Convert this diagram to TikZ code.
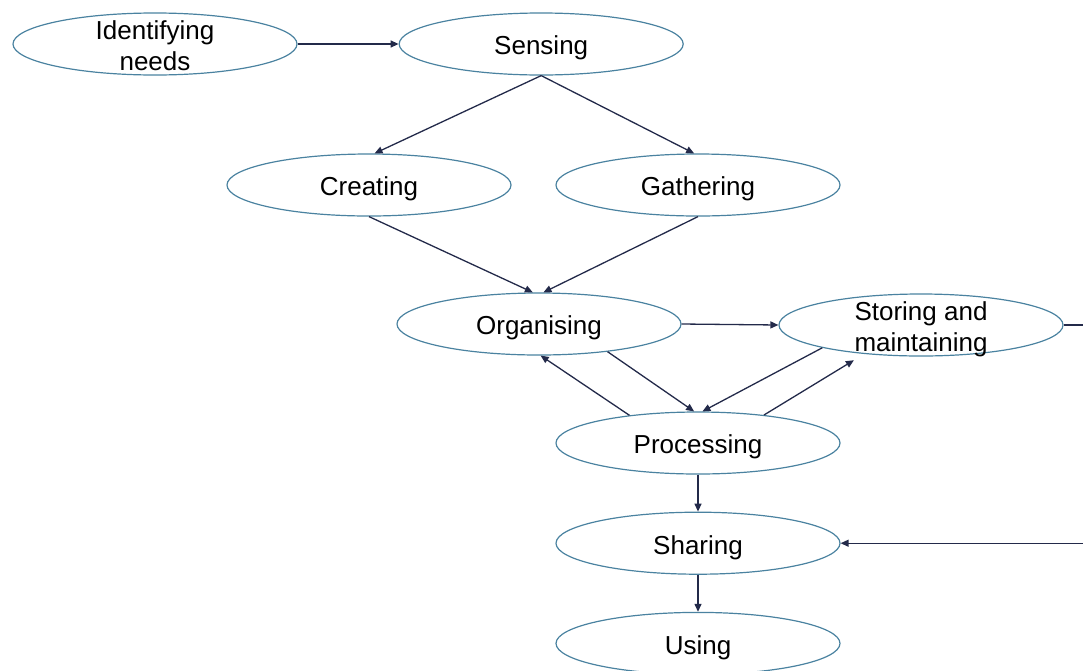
\documentclass[tikz,border=0pt]{standalone}
\usepackage{fontspec}
\setmainfont{Liberation Sans}
\usepackage{xcolor}
\usetikzlibrary{positioning, arrows.meta, shapes.geometric}

\definecolor{stageblue}{RGB}{74,130,160}
\definecolor{arrownavy}{RGB}{35,42,74}

\begin{document}
\begin{tikzpicture}[
    x=1pt, y=-1pt,
    >={Triangle[length=8pt, width=7pt]},
    node distance=38pt,
    stage/.style={ellipse, draw=stageblue, line width=1.2pt, minimum width=284pt, minimum height=62pt, inner sep=0pt, font=\fontsize{26}{31}\selectfont, align=center, execute at begin node={\rule{0pt}{27pt}}},
    twoline/.style={inner ysep=-11pt, execute at begin node={\rule[-5.5pt]{0pt}{64pt}}},
    flow/.style={->, line width=1.3pt, draw=arrownavy},
]
\useasboundingbox (0,0) rectangle (1083,670);

% Top row
\node[stage, twoline] (need) at (155,44) {Identifying\\needs};
\node[stage, right=101pt of need] (sense) {Sensing};

% Creating / gathering
\node[stage] (create) at (369,185) {Creating};
\node[stage] (gather) at (698,185) {Gathering};

% Organising / storing
\node[stage] (organise) at (539,324) {Organising};
\node[stage, twoline] (store) at (921,325) {Storing and\\maintaining};

% Processing, sharing, using
\node[stage] (process) at (698,443) {Processing};
\node[stage, below=37pt of process] (share) {Sharing};
\node[stage, below=37pt of share] (use) {Using};

% Arrows
\foreach \a/\b in {need/sense, organise/store} {
    \draw[flow] (\a.east) -- (\b.west);
}
\foreach \a/\b in {process/share, share/use} {
    \draw[flow] (\a.south) -- (\b.north);
}
\draw[flow] (sense.south) -- (create.80);
\draw[flow] (sense.south) -- (gather.97);
\draw[flow] (create.south) -- (organise.101);
\draw[flow] (gather.south) -- (organise.82);

% Loop between organising, storing and processing
\draw[flow] (process.158) -- (organise.-87);
\draw[flow] (organise.-22) -- (process.97);
\draw[flow] (store.193) -- (process.82);
\draw[flow, shorten >=12pt] (process.23) -- (store.207);

% Stored knowledge back to sharing
\draw[flow] (store.east) -- ++(60,0) |- (share.east);

\end{tikzpicture}
\end{document}
